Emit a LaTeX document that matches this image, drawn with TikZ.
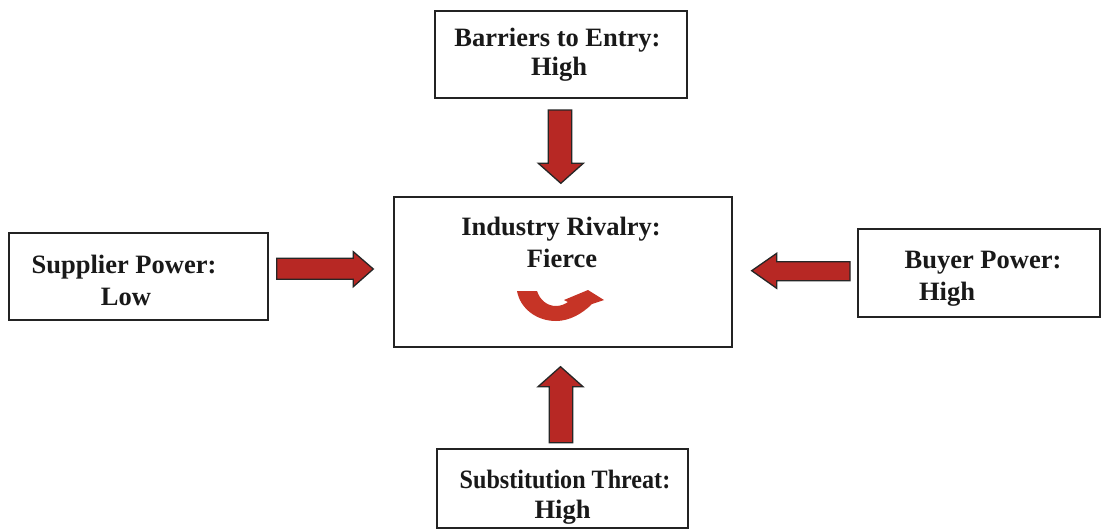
\documentclass[tikz,border=0pt]{standalone}
\usepackage{fontspec}
\setmainfont{Liberation Serif}
\begin{document}
\definecolor{arrowred}{RGB}{183,40,36}
\definecolor{swirlred}{RGB}{198,52,38}
\definecolor{frame}{RGB}{35,35,35}
\begin{tikzpicture}[x=1pt,y=-1pt,
  forcebox/.style={draw=frame, line width=1.6pt, fill=white, inner sep=0pt},
  label/.style={anchor=base, inner sep=0pt, font=\fontsize{26.5}{30}\selectfont\bfseries, text=black!90},
  blockarrow/.style={fill=arrowred, draw=black!85, line width=1.3pt, line join=miter}]
\useasboundingbox (0,0) rectangle (1102,531);

% the five forces as framed boxes
\node[forcebox, minimum width=252, minimum height=87] (entry) at (561,54.5) {};
\node[forcebox, minimum width=338, minimum height=150] (rivalry) at (563,272) {};
\node[forcebox, minimum width=259, minimum height=87] (supplier) at (138.5,276.5) {};
\node[forcebox, minimum width=242, minimum height=88] (buyer) at (979,273) {};
\node[forcebox, minimum width=251, minimum height=79] (substitute) at (562.5,488.5) {};

% box texts
\node[label] (entryA) at (557.5,46.7) {Barriers to Entry:};
\node[label] (entryB) at (559,75) {High};
\node[label] (rivalA) at (561,235.7) {Industry Rivalry:};
\node[label] (rivalB) at (562,267.7) {Fierce};
\node[label] (suppA) at (124,273.3) {Supplier Power:};
\node[label] (suppB) at (126,305) {Low};
\node[label] (buyA) at (983,268.3) {Buyer Power:};
\node[label] (buyB) at (947,300) {High};
\node[label, xscale=0.91] (subA) at (565,488.3) {Substitution Threat:};
\node[label] (subB) at (562.5,518.3) {High};

% block arrows pointing at the rivalry box
\draw[blockarrow] (548.3,110) -- (571.7,110) -- (571.7,163.3) -- (583.3,163.3)
  -- (560.8,183.3) -- (538.3,163.3) -- (548.3,163.3) -- cycle;
\draw[blockarrow] (549.3,442.7) -- (572.7,442.7) -- (572.7,386.7) -- (583,386.7)
  -- (560.5,366.7) -- (538,386.7) -- (549.3,386.7) -- cycle;
\draw[blockarrow] (276.7,258.3) -- (353.3,258.3) -- (353.3,251.7) -- (373.3,269)
  -- (353.3,286.7) -- (353.3,279.3) -- (276.7,279.3) -- cycle;
\draw[blockarrow] (850,261.7) -- (776.7,261.7) -- (776.7,253.3) -- (751.7,270.7)
  -- (776.7,288.3) -- (776.7,280.7) -- (850,280.7) -- cycle;

% curved arrow inside the rivalry box
\fill[swirlred] (517,291) -- (537,291)
  .. controls (540,300) and (547,306) .. (556,306)
  .. controls (561,306) and (565,304) .. (568,302)
  -- (564,300) -- (588,290) -- (604,300) -- (592,304)
  .. controls (582,314) and (569,321) .. (556,321)
  .. controls (536,321) and (520,308) .. (517,291) -- cycle;
\end{tikzpicture}
\end{document}
